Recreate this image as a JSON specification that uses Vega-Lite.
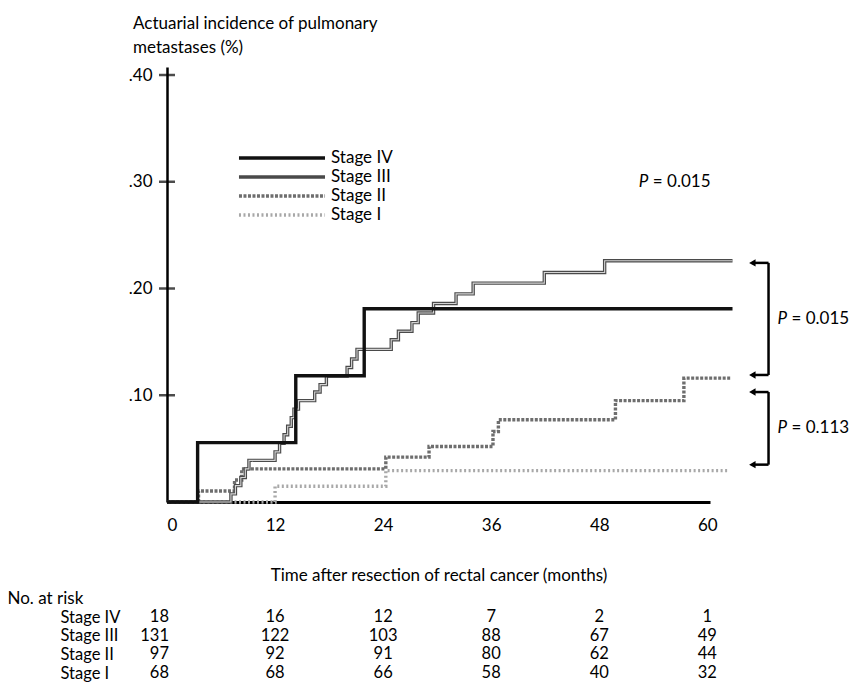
{
  "$schema": "https://vega.github.io/schema/vega-lite/v6.json",
  "width": 543,
  "height": 435,
  "autosize": {"type": "none"},
  "padding": {"left": 167, "top": 67, "right": 145, "bottom": 184},
  "background": "white",
  "config": {
    "font": "Lato",
    "view": {"stroke": null},
    "axis": {"labelFont": "Lato", "titleFont": "Lato", "labelColor": "black", "titleColor": "black", "grid": false},
    "text": {"font": "Lato", "fontSize": 17, "color": "black"},
    "legend": {"labelFont": "Lato", "labelColor": "black"}
  },
  "title": {
    "text": ["Actuarial incidence of pulmonary", "metastases (%)"],
    "anchor": "start",
    "frame": "group",
    "dx": -34,
    "offset": -8,
    "fontSize": 17,
    "fontWeight": "normal",
    "font": "Lato",
    "lineHeight": 24,
    "baseline": "bottom",
    "color": "black"
  },
  "datasets": {
    "km": [
      {"stage": "Stage I", "month": 0, "value": 0},
      {"stage": "Stage I", "month": 12.0, "value": 0.0147},
      {"stage": "Stage I", "month": 24.3, "value": 0.0294},
      {"stage": "Stage I", "month": 62.2, "value": 0.0294},
      {"stage": "Stage II", "month": 0, "value": 0},
      {"stage": "Stage II", "month": 3.5, "value": 0.0103},
      {"stage": "Stage II", "month": 7.5, "value": 0.0206},
      {"stage": "Stage II", "month": 8.3, "value": 0.031},
      {"stage": "Stage II", "month": 24.3, "value": 0.042},
      {"stage": "Stage II", "month": 29.1, "value": 0.052},
      {"stage": "Stage II", "month": 36.2, "value": 0.066},
      {"stage": "Stage II", "month": 36.8, "value": 0.077},
      {"stage": "Stage II", "month": 49.8, "value": 0.095},
      {"stage": "Stage II", "month": 57.4, "value": 0.116},
      {"stage": "Stage II", "month": 62.6, "value": 0.116},
      {"stage": "Stage III", "month": 0, "value": 0},
      {"stage": "Stage III", "month": 7.1, "value": 0.0076},
      {"stage": "Stage III", "month": 7.6, "value": 0.0153},
      {"stage": "Stage III", "month": 8.2, "value": 0.023},
      {"stage": "Stage III", "month": 8.7, "value": 0.031},
      {"stage": "Stage III", "month": 9.1, "value": 0.039},
      {"stage": "Stage III", "month": 12.0, "value": 0.047},
      {"stage": "Stage III", "month": 12.5, "value": 0.055},
      {"stage": "Stage III", "month": 13.0, "value": 0.063},
      {"stage": "Stage III", "month": 13.4, "value": 0.071},
      {"stage": "Stage III", "month": 13.8, "value": 0.079},
      {"stage": "Stage III", "month": 14.1, "value": 0.087},
      {"stage": "Stage III", "month": 14.6, "value": 0.095},
      {"stage": "Stage III", "month": 16.4, "value": 0.103},
      {"stage": "Stage III", "month": 17.0, "value": 0.110},
      {"stage": "Stage III", "month": 17.7, "value": 0.118},
      {"stage": "Stage III", "month": 20.0, "value": 0.126},
      {"stage": "Stage III", "month": 20.5, "value": 0.134},
      {"stage": "Stage III", "month": 21.1, "value": 0.143},
      {"stage": "Stage III", "month": 24.9, "value": 0.152},
      {"stage": "Stage III", "month": 25.7, "value": 0.160},
      {"stage": "Stage III", "month": 27.2, "value": 0.168},
      {"stage": "Stage III", "month": 27.9, "value": 0.177},
      {"stage": "Stage III", "month": 29.6, "value": 0.186},
      {"stage": "Stage III", "month": 32.1, "value": 0.195},
      {"stage": "Stage III", "month": 34.0, "value": 0.205},
      {"stage": "Stage III", "month": 41.9, "value": 0.215},
      {"stage": "Stage III", "month": 48.6, "value": 0.226},
      {"stage": "Stage III", "month": 62.8, "value": 0.226},
      {"stage": "Stage IV", "month": 0, "value": 0},
      {"stage": "Stage IV", "month": 3.4, "value": 0.0556},
      {"stage": "Stage IV", "month": 14.3, "value": 0.1183},
      {"stage": "Stage IV", "month": 21.9, "value": 0.181},
      {"stage": "Stage IV", "month": 62.8, "value": 0.181}
    ],
    "risk": [
      {"stage": "Stage IV", "month": 0, "n": 18},
      {"stage": "Stage IV", "month": 12, "n": 16},
      {"stage": "Stage IV", "month": 24, "n": 12},
      {"stage": "Stage IV", "month": 36, "n": 7},
      {"stage": "Stage IV", "month": 48, "n": 2},
      {"stage": "Stage IV", "month": 60, "n": 1},
      {"stage": "Stage III", "month": 0, "n": 131},
      {"stage": "Stage III", "month": 12, "n": 122},
      {"stage": "Stage III", "month": 24, "n": 103},
      {"stage": "Stage III", "month": 36, "n": 88},
      {"stage": "Stage III", "month": 48, "n": 67},
      {"stage": "Stage III", "month": 60, "n": 49},
      {"stage": "Stage II", "month": 0, "n": 97},
      {"stage": "Stage II", "month": 12, "n": 92},
      {"stage": "Stage II", "month": 24, "n": 91},
      {"stage": "Stage II", "month": 36, "n": 80},
      {"stage": "Stage II", "month": 48, "n": 62},
      {"stage": "Stage II", "month": 60, "n": 44},
      {"stage": "Stage I", "month": 0, "n": 68},
      {"stage": "Stage I", "month": 12, "n": 68},
      {"stage": "Stage I", "month": 24, "n": 66},
      {"stage": "Stage I", "month": 36, "n": 58},
      {"stage": "Stage I", "month": 48, "n": 40},
      {"stage": "Stage I", "month": 60, "n": 32}
    ],
    "brackets": [
      {"pair": "upper", "top": 0.224, "bottom": 0.119, "p": "= 0.015"},
      {"pair": "lower", "top": 0.103, "bottom": 0.035, "p": "= 0.113"}
    ],
    "ticks": [{"v": 0.1}, {"v": 0.2}, {"v": 0.3}, {"v": 0.4}],
    "overall": [{"p": "= 0.015"}]
  },
  "layer": [
    {
      "layer": [
        {
          "data": {"name": "km"},
          "transform": [{"filter": "datum.stage === 'Stage I'"}],
          "mark": {"type": "line", "interpolate": "step-after"},
          "encoding": {
            "x": {"field": "month", "type": "quantitative", "scale": {"domain": [0, 60.3], "nice": false, "zero": true},
              "axis": {"values": [0, 12, 24, 36, 48, 60], "domain": true, "domainColor": "black", "domainWidth": 3, "ticks": false, "tickSize": 0, "labelPadding": 15, "labelFontSize": 17, "labelAngle": 0,
                "title": "Time after resection of rectal cancer (months)", "titleFontSize": 17, "titleFontWeight": "normal", "titleY": 73, "titleBaseline": "middle"}},
            "y": {"field": "value", "type": "quantitative", "scale": {"domain": [0, 0.4075], "nice": false},
              "axis": {"orient": "left", "values": [0.1, 0.2, 0.3, 0.4], "format": ".2f", "labelExpr": "substring(datum.label, 1)", "domain": true, "domainColor": "black", "domainWidth": 2.5, "ticks": false, "tickSize": 0, "labelPadding": 15, "labelFontSize": 17, "title": null}},
            "color": {"field": "stage", "type": "nominal", "scale": {"domain": ["Stage IV", "Stage III", "Stage II", "Stage I"], "range": ["#111111", "#4a4a4a", "#6e6e6e", "#a8a8a8"]},
              "legend": {"orient": "none", "legendX": 104, "legendY": 80, "title": null, "symbolType": "M-4.78,0H4.78", "symbolSize": 324, "labelFontSize": 17, "labelOffset": 38, "rowPadding": -1, "padding": 0}},
            "strokeDash": {"field": "stage", "type": "nominal", "scale": {"domain": ["Stage IV", "Stage III", "Stage II", "Stage I"], "range": [[1, 0], [1, 0], [3, 1.5], [2, 2.5]]}},
            "strokeWidth": {"field": "stage", "type": "ordinal", "scale": {"domain": ["Stage IV", "Stage III", "Stage II", "Stage I"], "range": [3.4, 3.4, 1.8, 1.6]}}
          }
        },
        {
          "data": {"name": "km"},
          "transform": [{"filter": "datum.stage === 'Stage II'"}],
          "mark": {"type": "line", "interpolate": "step-after"},
          "encoding": {
            "x": {"field": "month", "type": "quantitative"},
            "y": {"field": "value", "type": "quantitative"},
            "color": {"field": "stage", "type": "nominal"},
            "strokeDash": {"field": "stage", "type": "nominal"},
            "strokeWidth": {"field": "stage", "type": "ordinal"}
          }
        },
        {
          "data": {"name": "km"},
          "transform": [{"filter": "datum.stage === 'Stage III'"}],
          "mark": {"type": "line", "interpolate": "step-after"},
          "encoding": {
            "x": {"field": "month", "type": "quantitative"},
            "y": {"field": "value", "type": "quantitative"},
            "color": {"field": "stage", "type": "nominal"},
            "strokeDash": {"field": "stage", "type": "nominal"},
            "strokeWidth": {"field": "stage", "type": "ordinal"}
          }
        },
        {
          "data": {"name": "km"},
          "transform": [{"filter": "datum.stage === 'Stage III'"}],
          "mark": {"type": "line", "interpolate": "step-after", "color": "#d4d4d4", "strokeWidth": 1.1},
          "encoding": {
            "x": {"field": "month", "type": "quantitative"},
            "y": {"field": "value", "type": "quantitative"}
          }
        },
        {
          "data": {"name": "km"},
          "transform": [{"filter": "datum.stage === 'Stage IV'"}],
          "mark": {"type": "line", "interpolate": "step-after"},
          "encoding": {
            "x": {"field": "month", "type": "quantitative"},
            "y": {"field": "value", "type": "quantitative"},
            "color": {"field": "stage", "type": "nominal"},
            "strokeDash": {"field": "stage", "type": "nominal"},
            "strokeWidth": {"field": "stage", "type": "ordinal"}
          }
        },
        {
          "data": {"name": "ticks"},
          "mark": {"type": "tick", "orient": "horizontal", "size": 16, "thickness": 2.5, "color": "black"},
          "encoding": {
            "x": {"datum": 0, "type": "quantitative"},
            "y": {"field": "v", "type": "quantitative"}
          }
        },
        {
          "data": {"name": "overall"},
          "mark": {"type": "text", "align": "left", "baseline": "middle", "fontStyle": "italic", "fontSize": 17},
          "encoding": {
            "x": {"datum": 52.4, "type": "quantitative"},
            "y": {"datum": 0.30, "type": "quantitative"},
            "text": {"value": "P"}
          }
        },
        {
          "data": {"name": "overall"},
          "mark": {"type": "text", "align": "left", "baseline": "middle", "fontSize": 17, "dx": 14},
          "encoding": {
            "x": {"datum": 52.4, "type": "quantitative"},
            "y": {"datum": 0.30, "type": "quantitative"},
            "text": {"field": "p"}
          }
        },
        {
          "data": {"name": "brackets"},
          "mark": {"type": "rule", "color": "black", "strokeWidth": 2.5},
          "encoding": {
            "x": {"datum": 66.8, "type": "quantitative"},
            "y": {"field": "top", "type": "quantitative"},
            "y2": {"field": "bottom"}
          }
        },
        {
          "data": {"name": "brackets"},
          "transform": [{"fold": ["top", "bottom"], "as": ["end", "level"]}],
          "layer": [
            {
              "mark": {"type": "rule", "color": "black", "strokeWidth": 2.5},
              "encoding": {
                "x": {"datum": 65.0, "type": "quantitative"},
                "x2": {"datum": 66.8},
                "y": {"field": "level", "type": "quantitative"}
              }
            },
            {
              "mark": {"type": "point", "shape": "triangle-left", "filled": true, "size": 55, "color": "black", "opacity": 1},
              "encoding": {
                "x": {"datum": 65.0, "type": "quantitative"},
                "y": {"field": "level", "type": "quantitative"}
              }
            },
            {
              "mark": {"type": "text", "align": "left", "baseline": "middle", "fontStyle": "italic", "fontSize": 17},
              "encoding": {
                "x": {"datum": 67.8, "type": "quantitative"},
                "y": {"aggregate": "mean", "field": "level", "type": "quantitative"},
                "detail": {"field": "pair"},
                "text": {"value": "P"}
              }
            },
            {
              "mark": {"type": "text", "align": "left", "baseline": "middle", "fontSize": 17, "dx": 14},
              "encoding": {
                "x": {"datum": 67.8, "type": "quantitative"},
                "y": {"aggregate": "mean", "field": "level", "type": "quantitative"},
                "text": {"field": "p"}
              }
            }
          ]
        }
      ]
    },
    {
      "data": {"name": "risk"},
      "encoding": {
        "x": {"field": "month", "type": "quantitative"},
        "y": {"field": "stage", "type": "nominal", "sort": ["Stage IV", "Stage III", "Stage II", "Stage I"],
          "scale": {"type": "point", "range": [550, 606], "padding": 0},
          "axis": {"orient": "left", "domain": false, "ticks": false, "labelAlign": "left", "labelPadding": 107, "labelFontSize": 16.5, "labelBaseline": "middle",
            "title": "No. at risk", "titleAngle": 0, "titleAlign": "left", "titleBaseline": "middle", "titleX": -160, "titleY": 531, "titleFontSize": 17, "titleFontWeight": "normal"}},
        "text": {"field": "n", "type": "quantitative"}
      },
      "layer": [
        {
          "transform": [{"filter": "datum.month === 0"}],
          "mark": {"type": "text", "align": "right", "baseline": "middle", "fontSize": 16.5, "dx": 2}
        },
        {
          "transform": [{"filter": "datum.month > 0"}],
          "mark": {"type": "text", "align": "center", "baseline": "middle", "fontSize": 16.5}
        }
      ]
    }
  ],
  "resolve": {"scale": {"y": "independent"}, "axis": {"y": "independent"}}
}
